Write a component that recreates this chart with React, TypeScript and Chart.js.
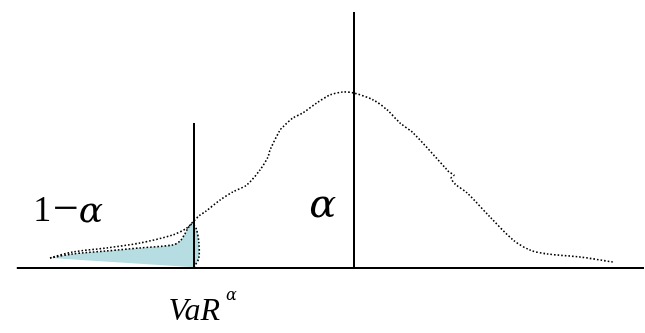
import React, { useEffect, useRef, useState } from "react";
import { Chart, registerables } from "chart.js";

Chart.register(...registerables);

// Return (x, in % around the mean) and relative density (y, peak ≈ 100)
const densityX = [-7.6, -7.03, -6.18, -5.35, -4.53, -4.18, -4.03, -3.85, -3.73, -3.35, -3.03, -2.68, -2.35, -2.15, -2.1, -1.85, -1.78, -1.53, -1.28, -0.93, -0.6, -0.28, 0, 0.48, 0.83, 1.15, 1.48, 2.33, 2.38, 2.5, 2.43, 2.53, 2.83, 3.4, 3.98, 4.4, 4.83, 5.65, 6.48];
const densityY = [5.7, 9.1, 11.4, 14.2, 18.8, 22.7, 26.1, 30.1, 31.8, 38.6, 43.2, 47.2, 55.7, 63.1, 67.0, 78.4, 80.1, 85.2, 88.1, 93.8, 98.3, 100, 99.4, 95.5, 89.8, 82.4, 76.7, 55.7, 54.5, 52.8, 51.1, 47.7, 42.6, 29.0, 15.9, 10.2, 8.0, 6.25, 3.4];

// Lower tail (1 - alpha) outline
const tailX = [-7.6, -7.03, -6.18, -5.35, -4.53, -4.35, -4.23, -4.15, -4.05, -3.95, -3.88, -3.88, -4.0];
const tailY = [5.7, 8.0, 9.7, 11.4, 13.1, 15.3, 19.3, 22.7, 25.0, 22.7, 14.8, 5.7, 0.4];

// Reference lines
const axisX = [-8.43, 7.25];
const varX = -4.0;
const varTop = 82.4;
const meanX = 0;
const meanTop = 145.5;

// Labels
const labelOne = "1";
const labelMinus = "−";
const labelAlpha = "α";
const labelVaR = "VaR";

const pts = (xs: number[], ys: number[]) => xs.map((x, i) => ({ x, y: ys[i] }));

type Lbl = { x: number; y: number };

export default function App() {
  const ref = useRef<HTMLCanvasElement>(null);
  const [pos, setPos] = useState<Record<string, Lbl> | null>(null);
  useEffect(() => {
    if (!ref.current) return;
    const chart = new Chart(ref.current, {
      type: "line",
      data: {
        datasets: [
          { label: "shade", data: pts(tailX, tailY), fill: "shape", backgroundColor: "rgb(182,222,226)", borderWidth: 0, borderColor: "rgba(0,0,0,0)", pointRadius: 0, tension: 0.3, order: 10 },
          { label: "tail", data: pts(tailX, tailY), fill: false, borderColor: "#000", borderWidth: 1.6, borderDash: [1.6, 2], pointRadius: 0, tension: 0.3, order: 3 },
          { label: "density", data: pts(densityX, densityY), fill: false, borderColor: "#000", borderWidth: 1.6, borderDash: [1.6, 2], pointRadius: 0, tension: 0.3, order: 3 },
          { label: "axis", data: pts(axisX, [0, 0]), fill: false, borderColor: "#000", borderWidth: 2, pointRadius: 0, order: 1 },
          { label: "VaR", data: pts([varX, varX], [0, varTop]), fill: false, borderColor: "#000", borderWidth: 2, pointRadius: 0, order: 1 },
          { label: "mean", data: pts([meanX, meanX], [0, meanTop]), fill: false, borderColor: "#000", borderWidth: 2, pointRadius: 0, order: 1 },
        ],
      },
      options: {
        animation: false,
        responsive: false,
        maintainAspectRatio: false,
        layout: { padding: 0 },
        plugins: { legend: { display: false }, tooltip: { enabled: false } },
        scales: {
          x: { type: "linear", min: -8.85, max: 7.275, display: false },
          y: { type: "linear", min: -36.93, max: 152.27, display: false },
        },
      },
    });
    const sx = chart.scales.x;
    const sy = chart.scales.y;
    const p = (x: number, y: number) => ({ x: sx.getPixelForValue(x), y: sy.getPixelForValue(y) });
    setPos({
      one: p(-8.02, 26.7),
      minus: p(-7.2, 25.8),
      alphaL: p(-6.88, 26.1),
      alpha: p(-1.12, 29.0),
      vaR: p(-4.64, -29.5),
      sup: p(-3.2, -18.2),
    });
    return () => chart.destroy();
  }, []);
  return (
    <div style={{ position: "fixed", left: 0, top: 0, width: 645, height: 333, background: "#fff" }}>
      <canvas ref={ref} width={645} height={333} style={{ position: "absolute", left: 0, top: 0 }} />
      {pos && (
        <svg width={645} height={333} style={{ position: "absolute", left: 0, top: 0 }} fill="#000">
          <text x={pos.one.x} y={pos.one.y} fontSize={36} fontFamily="Liberation Serif">{labelOne}</text>
          <text x={pos.minus.x} y={pos.minus.y} fontSize={46} textAnchor="middle" fontFamily="Liberation Serif">{labelMinus}</text>
          <text x={pos.alphaL.x} y={pos.alphaL.y} fontSize={36} fontStyle="italic" fontFamily="DejaVu Serif">{labelAlpha}</text>
          <text x={pos.alpha.x} y={pos.alpha.y} fontSize={40} fontStyle="italic" fontFamily="DejaVu Serif">{labelAlpha}</text>
          <text x={pos.vaR.x} y={pos.vaR.y} fontSize={32} fontStyle="italic" fontFamily="Liberation Serif">{labelVaR}</text>
          <text x={pos.sup.x} y={pos.sup.y} fontSize={16} fontStyle="italic" fontFamily="DejaVu Serif">{labelAlpha}</text>
        </svg>
      )}
    </div>
  );
}
